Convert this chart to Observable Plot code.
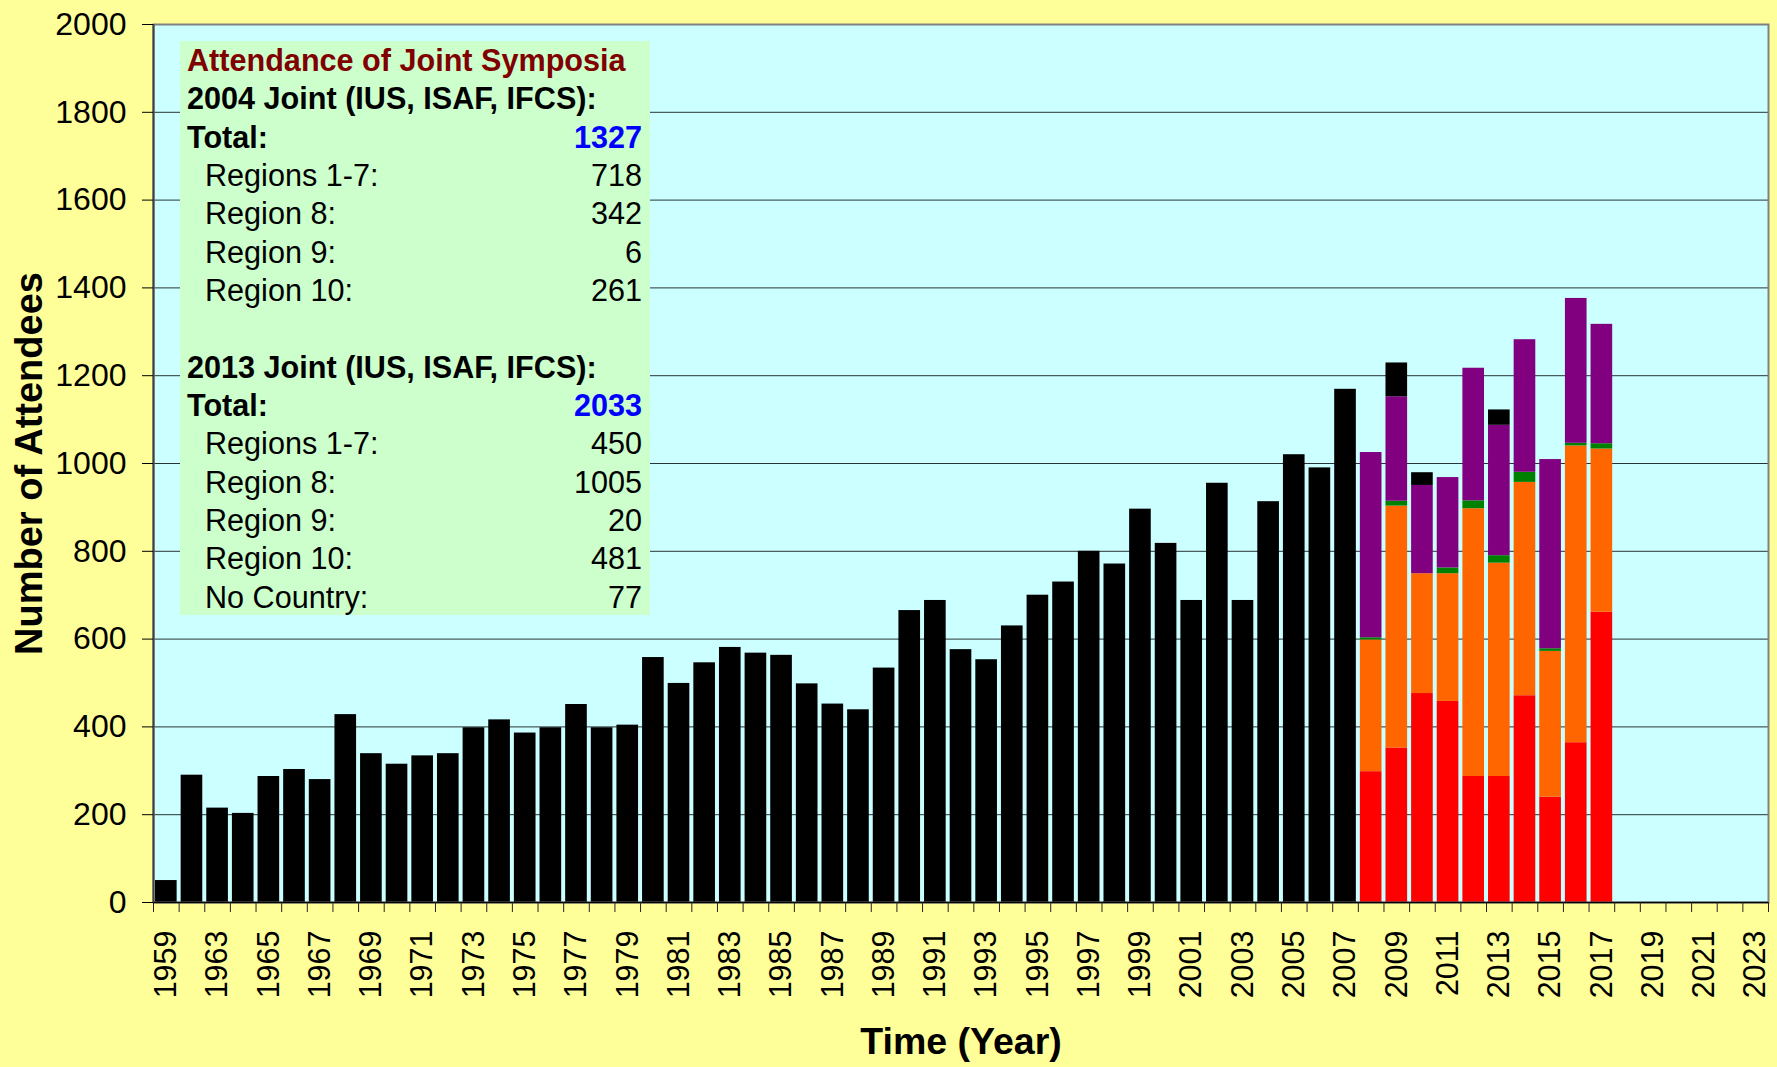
<!DOCTYPE html>
<html><head><meta charset="utf-8">
<script src="https://cdn.jsdelivr.net/npm/d3@7"></script>
<script src="https://cdn.jsdelivr.net/npm/@observablehq/plot@0.6"></script>
<style>
html,body{margin:0;padding:0;background:#FFFF99;}
#wrap{position:relative;width:1777px;height:1067px;font-family:"Liberation Sans",Arial,sans-serif;}
#chart svg{display:block;}
#box{position:absolute;left:180px;top:41px;width:470px;height:574px;background:#CCFFCC;box-sizing:border-box;padding:0 8px 0 7px;font-size:30.6px;line-height:38.35px;color:#000;}
.row{display:flex;justify-content:space-between;white-space:nowrap;height:38.35px;}
.ind{padding-left:18px;}
.b{font-weight:bold;}
.title{color:#800000;font-weight:bold;}
.tot{color:#0000FF;font-weight:bold;}
</style></head>
<body><div id="wrap"><div id="chart"></div><div id="box"></div></div>
<script>
// categories (x axis)
const years = ["1959","1961","1963","1964","1965","1966","1967","1968","1969","1970",
  "1971","1972","1973","1974","1975","1976","1977","1978","1979","1980",
  "1981","1982","1983","1984","1985","1986","1987","1988","1989","1990",
  "1991","1992","1993","1994","1995","1996","1997","1998","1999","2000",
  "2001","2002","2003","2004","2005","2006","2007","2008","2009","2010",
  "2011","2012","2013","2014","2015","2016","2017","2018","2019","2020",
  "2021","2022","2023"];

// total attendance (black bars) 1959..2007
const totalYears = years.slice(0, 47);
const totals = [50, 290, 215, 203, 287, 303, 280, 428, 339, 315,
  334, 339, 398, 416, 386, 398, 451, 398, 404, 558,
  499, 546, 581, 568, 563, 498, 452, 439, 534, 665,
  688, 576, 553, 630, 700, 730, 800, 771, 896, 818,
  688, 955, 688, 913, 1020, 990, 1169];

// regional breakdown 2008..2017
const stackYears = ["2008","2009","2010","2011","2012","2013","2014","2015","2016","2017"];
const regions1to7 = [298, 352, 476, 458, 287, 287, 471, 240, 364, 661];
const region8     = [300, 551, 273, 291, 610, 486, 486, 332, 676, 372];
const region9     = [5, 11, 0, 13, 18, 17, 23, 6, 6, 12];
const region10    = [422, 238, 201, 206, 302, 297, 302, 431, 330, 272];
const noCountry   = [0, 77, 29, 0, 0, 35, 0, 0, 0, 0];

const seriesNames = ["Regions 1-7","Region 8","Region 9","Region 10","No Country"];
const seriesValues = [regions1to7, region8, region9, region10, noCountry];
const stackOrder = ["Total", ...seriesNames];
const colorRange = ["#000000","#FF0000","#FF6600","#008000","#800080","#000000"];

const yTicks = [0,200,400,600,800,1000,1200,1400,1600,1800,2000];
const xTitle = "Time (Year)";
const yTitle = "Number of Attendees";

// text box content
const boxTitle = "Attendance of Joint Symposia";
const boxRows = [
  ["head","2004 Joint (IUS, ISAF, IFCS):",""],
  ["total","Total:","1327"],
  ["item","Regions 1-7:","718"],
  ["item","Region 8:","342"],
  ["item","Region 9:","6"],
  ["item","Region 10:","261"],
  ["blank","",""],
  ["head","2013 Joint (IUS, ISAF, IFCS):",""],
  ["total","Total:","2033"],
  ["item","Regions 1-7:","450"],
  ["item","Region 8:","1005"],
  ["item","Region 9:","20"],
  ["item","Region 10:","481"],
  ["item","No Country:","77"]
];

const rows = [];
totalYears.forEach((y, k) => rows.push({year: y, series: "Total", value: totals[k]}));
stackYears.forEach((y, k) => seriesNames.forEach((s, j) => rows.push({year: y, series: s, value: seriesValues[j][k]})));
const idx = d => years.indexOf(d.year);

const boundaries = d3.range(0, years.length + 1);
const labelPos = d3.range(0, years.length, 2).map(i => i + 0.5);

const chart = Plot.plot({
  width: 1777, height: 1067,
  marginLeft: 153, marginRight: 9, marginTop: 24, marginBottom: 165,
  x: {type: "linear", domain: [0, years.length], axis: null},
  y: {domain: [0, 2000], axis: null},
  color: {domain: stackOrder, range: colorRange},
  style: {background: "transparent", fontFamily: "'Liberation Sans', Arial, sans-serif", color: "#000", overflow: "visible"},
  marks: [
    Plot.frame({fill: "#CCFFFF", stroke: null}),
    Plot.gridY(yTicks.filter(v => v > 0), {stroke: "#000", strokeOpacity: 0.8, strokeWidth: 1}),
    Plot.rectY(rows, Plot.stackY({
      x1: idx, x2: d => idx(d) + 1, y: "value", fill: "series", order: stackOrder,
      insetLeft: 2, insetRight: 2
    })),
    Plot.frame({stroke: "#808080", strokeWidth: 2}),
    Plot.ruleX([0], {stroke: "#404040", strokeWidth: 2}),
    Plot.ruleY([0], {stroke: "#000", strokeWidth: 1.5}),
    Plot.axisY(yTicks, {tickSize: 11, tickPadding: 16, fontSize: 32, label: null, stroke: "#000",
      tickFormat: d => String(d)}),
    Plot.axisX(boundaries, {tickSize: 10, tickFormat: () => "", label: null, stroke: "#222"}),
    Plot.axisX(labelPos, {tickSize: 0, tickPadding: 28, tickRotate: -90, fontSize: 30.5, label: null,
      tickFormat: v => years[Math.floor(v)]}),
    Plot.text([xTitle], {frameAnchor: "bottom", dy: 151, lineAnchor: "bottom", fontSize: 37.5, fontWeight: "bold"}),
    Plot.text([yTitle], {frameAnchor: "left", dx: -138, rotate: -90, lineAnchor: "top", textAnchor: "middle",
      fontSize: 38, fontWeight: "bold"})
  ]
});
document.getElementById("chart").appendChild(chart);

// build annotation box
const box = document.getElementById("box");
const t = document.createElement("div");
t.className = "row title"; t.textContent = boxTitle; box.appendChild(t);
boxRows.forEach(([kind, label, value]) => {
  const r = document.createElement("div");
  r.className = "row" + (kind === "item" ? " ind" : "") + (kind === "head" || kind === "total" ? " b" : "");
  const a = document.createElement("span"); a.textContent = label;
  const b = document.createElement("span"); b.textContent = value;
  if (kind === "total") b.className = "tot";
  r.appendChild(a); r.appendChild(b);
  box.appendChild(r);
});
</script>
</body></html>
